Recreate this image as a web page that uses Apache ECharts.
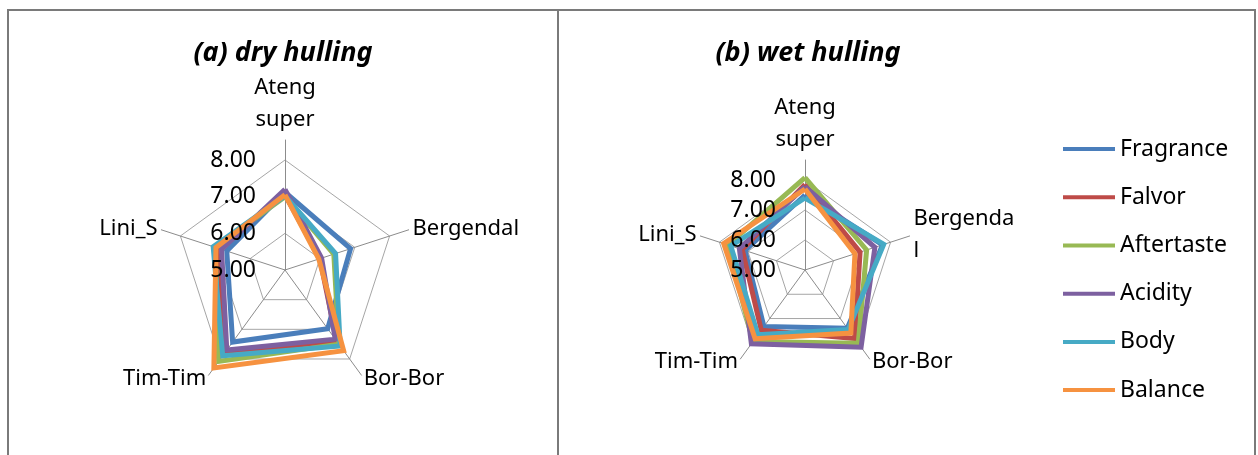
<!DOCTYPE html>
<html>
<head>
<meta charset="utf-8">
<script src="https://cdn.jsdelivr.net/npm/echarts@6/dist/echarts.min.js"></script>
<style>
  html, body { margin: 0; padding: 0; background: #fff; }
  #main { width: 1258px; height: 455px; }
</style>
</head>
<body>
<div id="main"></div>
<script>
// axes of the radar, clockwise from the top
const categories = ['Ateng super', 'Bergendal', 'Bor-Bor', 'Tim-Tim', 'Lini_S'];
const attributes = ['Fragrance', 'Falvor', 'Aftertaste', 'Acidity', 'Body', 'Balance'];
const colors = ['#4a7ebb', '#be4b48', '#98b954', '#7d60a0', '#46aac5', '#f69240'];
const tickLabels = ['5.00', '6.00', '7.00', '8.00'];

// (a) dry hulling
const dryFragrance  = [7.12, 6.88, 6.98, 7.43, 6.67];
const dryFalvor     = [7.05, 6.00, 7.40, 7.80, 6.95];
const dryAftertaste = [7.00, 6.40, 7.50, 8.08, 7.00];
const dryAcidity    = [7.20, 6.05, 7.33, 7.70, 6.82];
const dryBody       = [7.02, 6.45, 7.56, 7.89, 7.06];
const dryBalance    = [7.05, 5.97, 7.72, 8.30, 6.98];

// (b) wet hulling
const wetFragrance  = [7.50, 7.72, 7.40, 7.33, 7.10];
const wetFalvor     = [7.85, 6.93, 7.82, 7.48, 7.20];
const wetAftertaste = [8.08, 7.16, 8.02, 7.95, 7.70];
const wetAcidity    = [7.78, 7.45, 8.18, 8.04, 7.30];
const wetBody       = [7.40, 7.76, 7.45, 7.67, 7.60];
const wetBalance    = [7.70, 6.75, 7.60, 7.83, 7.85];

const drySeries = [dryFragrance, dryFalvor, dryAftertaste, dryAcidity, dryBody, dryBalance];
const wetSeries = [wetFragrance, wetFalvor, wetAftertaste, wetAcidity, wetBody, wetBalance];

// echarts goes counter-clockwise, so reverse the order after the first axis
const order = [0, 4, 3, 2, 1];
const axisMin = +tickLabels[0];
const axisMax = +tickLabels[tickLabels.length - 1];
const font = 'Noto Sans';

// rings at 6, 7, 8 (series are drawn on this one)
function gridRadar(center, radius) {
  return {
    center: center, radius: radius, startAngle: 90, shape: 'polygon',
    splitNumber: tickLabels.length - 1,
    indicator: order.map(function (i) { return { name: categories[i], min: axisMin, max: axisMax }; }),
    axisName: { show: false },
    axisLine: { show: false },
    axisTick: { show: false },
    axisLabel: { show: false },
    splitLine: { lineStyle: { color: '#a6a6a6', width: 1 } },
    splitArea: { show: false }
  };
}

// same scale, only the tick labels of the top axis, above the lines
function labelRadar(center, radius) {
  const r = gridRadar(center, radius);
  r.z = 5;
  r.splitLine = { show: false };
  r.indicator[0].axisLabel = {
    show: true, color: '#000', fontSize: 23, fontFamily: font, margin: 29,
    formatter: function (v) { return v.toFixed(2); }
  };
  return r;
}

// longer spokes and the category names
function axisRadar(center, radius, wrap) {
  return {
    center: center, radius: radius, startAngle: 90, shape: 'polygon',
    splitNumber: 1,
    indicator: order.map(function (i) { return { name: categories[i], min: 0, max: 1 }; }),
    nameGap: 4,
    axisName: {
      color: '#000', fontSize: 22, fontFamily: font, lineHeight: 32,
      formatter: function (n) {
        n = n.replace(' ', '\n');
        return wrap && n === 'Bergendal' ? 'Bergenda\nl' : n;
      }
    },
    axisLine: { lineStyle: { color: '#8c8c8c', width: 1 } },
    axisTick: { show: false },
    axisLabel: { show: false },
    splitLine: { show: false },
    splitArea: { show: false }
  };
}

function makeSeries(list, radarIndex) {
  return list.map(function (arr, s) {
    return {
      type: 'radar', name: attributes[s], radarIndex: radarIndex,
      symbol: 'none', silent: true,
      lineStyle: { color: colors[s], width: 5, join: 'miter' },
      itemStyle: { color: colors[s] },
      data: [{ name: attributes[s], value: order.map(function (i) { return arr[i]; }) }]
    };
  });
}

const chart = echarts.init(document.getElementById('main'));
chart.setOption({
  animation: false,
  backgroundColor: '#fff',
  radar: [
    gridRadar([285, 270], 110),
    axisRadar([285, 270], 130, false),
    labelRadar([285, 270], 110),
    gridRadar([805, 270], 90),
    axisRadar([805, 270], 110, true),
    labelRadar([805, 270], 90)
  ],
  legend: {
    orient: 'vertical', left: 1058, top: 132,
    itemWidth: 52, itemHeight: 4, itemGap: 24, icon: 'rect',
    data: attributes,
    itemStyle: { borderWidth: 0 },
    textStyle: { color: '#000', fontSize: 23, fontFamily: font, lineHeight: 24.2 }
  },
  graphic: [
    { type: 'rect', shape: { x: 8, y: 10, width: 550, height: 470 },
      style: { fill: 'none', stroke: '#7a7a7a', lineWidth: 2 } },
    { type: 'rect', shape: { x: 558, y: 10, width: 697, height: 470 },
      style: { fill: 'none', stroke: '#7a7a7a', lineWidth: 2 } },
    { type: 'text', x: 283, y: 53,
      style: { text: '(a) dry hulling', fill: '#000', align: 'center', verticalAlign: 'middle',
               font: 'italic bold 27px "Noto Sans"' } },
    { type: 'text', x: 808, y: 53,
      style: { text: '(b) wet hulling', fill: '#000', align: 'center', verticalAlign: 'middle',
               font: 'italic bold 27px "Noto Sans"' } }
  ],
  series: makeSeries(drySeries, 0).concat(makeSeries(wetSeries, 3))
});
</script>
</body>
</html>
